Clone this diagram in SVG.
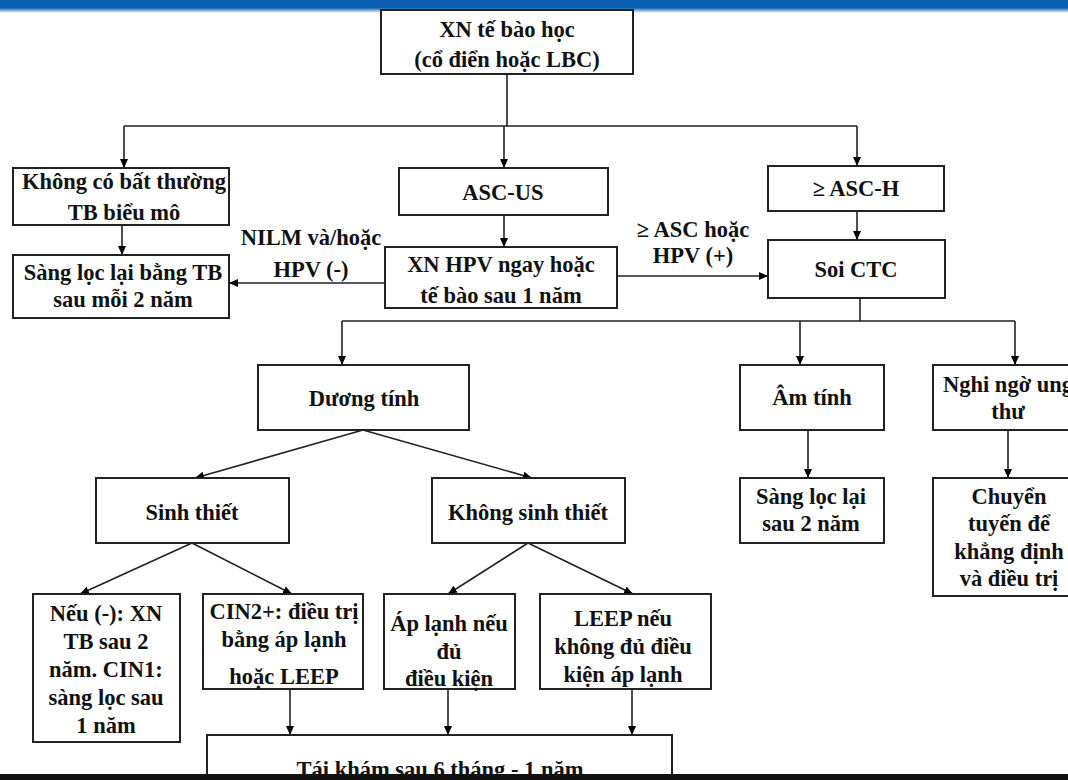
<svg xmlns="http://www.w3.org/2000/svg" width="1068" height="780" viewBox="0 0 1068 780">
<defs>
<linearGradient id="topbar" x1="0" y1="0" x2="0" y2="1">
<stop offset="0" stop-color="#0a5fb4"/>
<stop offset="0.6" stop-color="#0a5fb4"/>
<stop offset="1" stop-color="#ffffff"/>
</linearGradient>
<marker id="ah" markerWidth="10" markerHeight="10" refX="9" refY="5" orient="auto" markerUnits="userSpaceOnUse">
<path d="M0,1 L9,5 L0,9 Z" fill="#000"/>
</marker>
</defs>
<style>
.box{fill:#fff;stroke:#222;stroke-width:2}
.t{font-family:"Liberation Serif","Times New Roman",serif;font-weight:bold;font-size:22.5px;fill:#111;text-anchor:middle}
.c{fill:none;stroke:#222;stroke-width:1.6}
.a{fill:none;stroke:#222;stroke-width:1.6;marker-end:url(#ah)}
</style>
<rect x="0" y="0" width="1068" height="780" fill="#fff"/>
<rect x="0" y="0" width="1068" height="13" fill="url(#topbar)"/>

<g id="connectors">
<path class="c" d="M507,74 V126 M124,126 H857"/>
<path class="a" d="M124,126 V168"/>
<path class="a" d="M504,126 V168"/>
<path class="a" d="M857,126 V166"/>
<path class="a" d="M122,225 V255"/>
<path class="a" d="M504,215 V247"/>
<path class="a" d="M857,211 V240"/>
<path class="a" d="M385,283 H229"/>
<path class="a" d="M617,276 H768"/>
<path class="c" d="M860,298 V321 M342,321 H1015"/>
<path class="a" d="M342,321 V365"/>
<path class="a" d="M800,321 V365"/>
<path class="a" d="M1015,321 V365"/>
<path class="a" d="M808,430 V478"/>
<path class="a" d="M1008,430 V478"/>
<path class="a" d="M363,430 L195,478"/>
<path class="a" d="M363,430 L532,478"/>
<path class="a" d="M192,543 L80,594"/>
<path class="a" d="M192,543 L292,594"/>
<path class="a" d="M528,543 L448,594"/>
<path class="a" d="M528,543 L633,594"/>
<path class="a" d="M290,689 V735"/>
<path class="a" d="M448,689 V735"/>
<path class="a" d="M632,689 V735"/>
</g>

<g id="n-top"><rect class="box" x="381" y="10" width="252" height="64"/>
<text class="t" x="507" y="37">XN tế bào học</text><text class="t" x="507" y="67">(cổ điển hoặc LBC)</text></g>
<g id="n-khongco"><rect class="box" x="13" y="168" width="216" height="57"/>
<text class="t" x="124" y="189">Không có bất thường</text><text class="t" x="124" y="220">TB biểu mô</text></g>
<g id="n-ascus"><rect class="box" x="399" y="168" width="209" height="47"/>
<text class="t" x="503" y="200">ASC-US</text></g>
<g id="n-asch"><rect class="box" x="768" y="166" width="176" height="45"/>
<text class="t" x="856" y="196">≥ ASC-H</text></g>
<g id="n-sangloctb"><rect class="box" x="13" y="255" width="216" height="63"/>
<text class="t" x="123" y="280">Sàng lọc lại bằng TB</text><text class="t" x="123" y="307">sau mỗi 2 năm</text></g>
<g id="n-xnhpv"><rect class="box" x="385" y="247" width="232" height="61"/>
<text class="t" x="501" y="272">XN HPV ngay hoặc</text><text class="t" x="501" y="303">tế bào sau 1 năm</text></g>
<g id="n-soictc"><rect class="box" x="768" y="240" width="177" height="58"/>
<text class="t" x="856" y="277">Soi CTC</text></g>
<g id="l-nilm"><text class="t" x="311" y="245">NILM và/hoặc</text><text class="t" x="311" y="277">HPV (-)</text></g>
<g id="l-asc"><text class="t" x="693" y="237">≥ ASC hoặc</text><text class="t" x="693" y="263">HPV (+)</text></g>
<g id="n-duong"><rect class="box" x="258" y="365" width="211" height="65"/>
<text class="t" x="364" y="406">Dương tính</text></g>
<g id="n-am"><rect class="box" x="740" y="365" width="144" height="65"/>
<text class="t" x="812" y="405">Âm tính</text></g>
<g id="n-nghi"><rect class="box" x="933" y="365" width="150" height="65"/>
<text class="t" x="1008" y="392">Nghi ngờ ung</text><text class="t" x="1008" y="419">thư</text></g>
<g id="n-sangloc2"><rect class="box" x="740" y="478" width="144" height="65"/>
<text class="t" x="811" y="504">Sàng lọc lại</text><text class="t" x="811" y="531">sau 2 năm</text></g>
<g id="n-chuyen"><rect class="box" x="933" y="478" width="150" height="118"/>
<text class="t" x="1009" y="504">Chuyển</text><text class="t" x="1009" y="531">tuyến để</text><text class="t" x="1009" y="559">khẳng định</text><text class="t" x="1009" y="586">và điều trị</text></g>
<g id="n-sinh"><rect class="box" x="96" y="478" width="193" height="65"/>
<text class="t" x="192" y="520">Sinh thiết</text></g>
<g id="n-khongsinh"><rect class="box" x="432" y="478" width="193" height="65"/>
<text class="t" x="528" y="520">Không sinh thiết</text></g>
<g id="n-neu"><rect class="box" x="33" y="594" width="147" height="148"/>
<text class="t" x="106" y="621">Nếu (-): XN</text><text class="t" x="106" y="649">TB sau 2</text><text class="t" x="106" y="677">năm. CIN1:</text><text class="t" x="106" y="705">sàng lọc sau</text><text class="t" x="106" y="733">1 năm</text></g>
<g id="n-cin2"><rect class="box" x="203" y="594" width="160" height="95"/>
<text class="t" x="284" y="619">CIN2+: điều trị</text><text class="t" x="284" y="647">bằng áp lạnh</text><text class="t" x="284" y="684">hoặc LEEP</text></g>
<g id="n-aplanh"><rect class="box" x="384" y="594" width="131" height="95"/>
<text class="t" x="449" y="631">Áp lạnh nếu</text><text class="t" x="449" y="659">đủ</text><text class="t" x="449" y="686">điều kiện</text></g>
<g id="n-leep"><rect class="box" x="540" y="594" width="171" height="95"/>
<text class="t" x="623" y="626">LEEP nếu</text><text class="t" x="623" y="654">không đủ điều</text><text class="t" x="623" y="682">kiện áp lạnh</text></g>
<g id="n-taikham"><rect class="box" x="207" y="735" width="465" height="55"/>
<text class="t" x="440" y="777">Tái khám sau 6 tháng - 1 năm</text></g>
<rect x="0" y="774" width="1068" height="6" fill="#111"/>
</svg>
